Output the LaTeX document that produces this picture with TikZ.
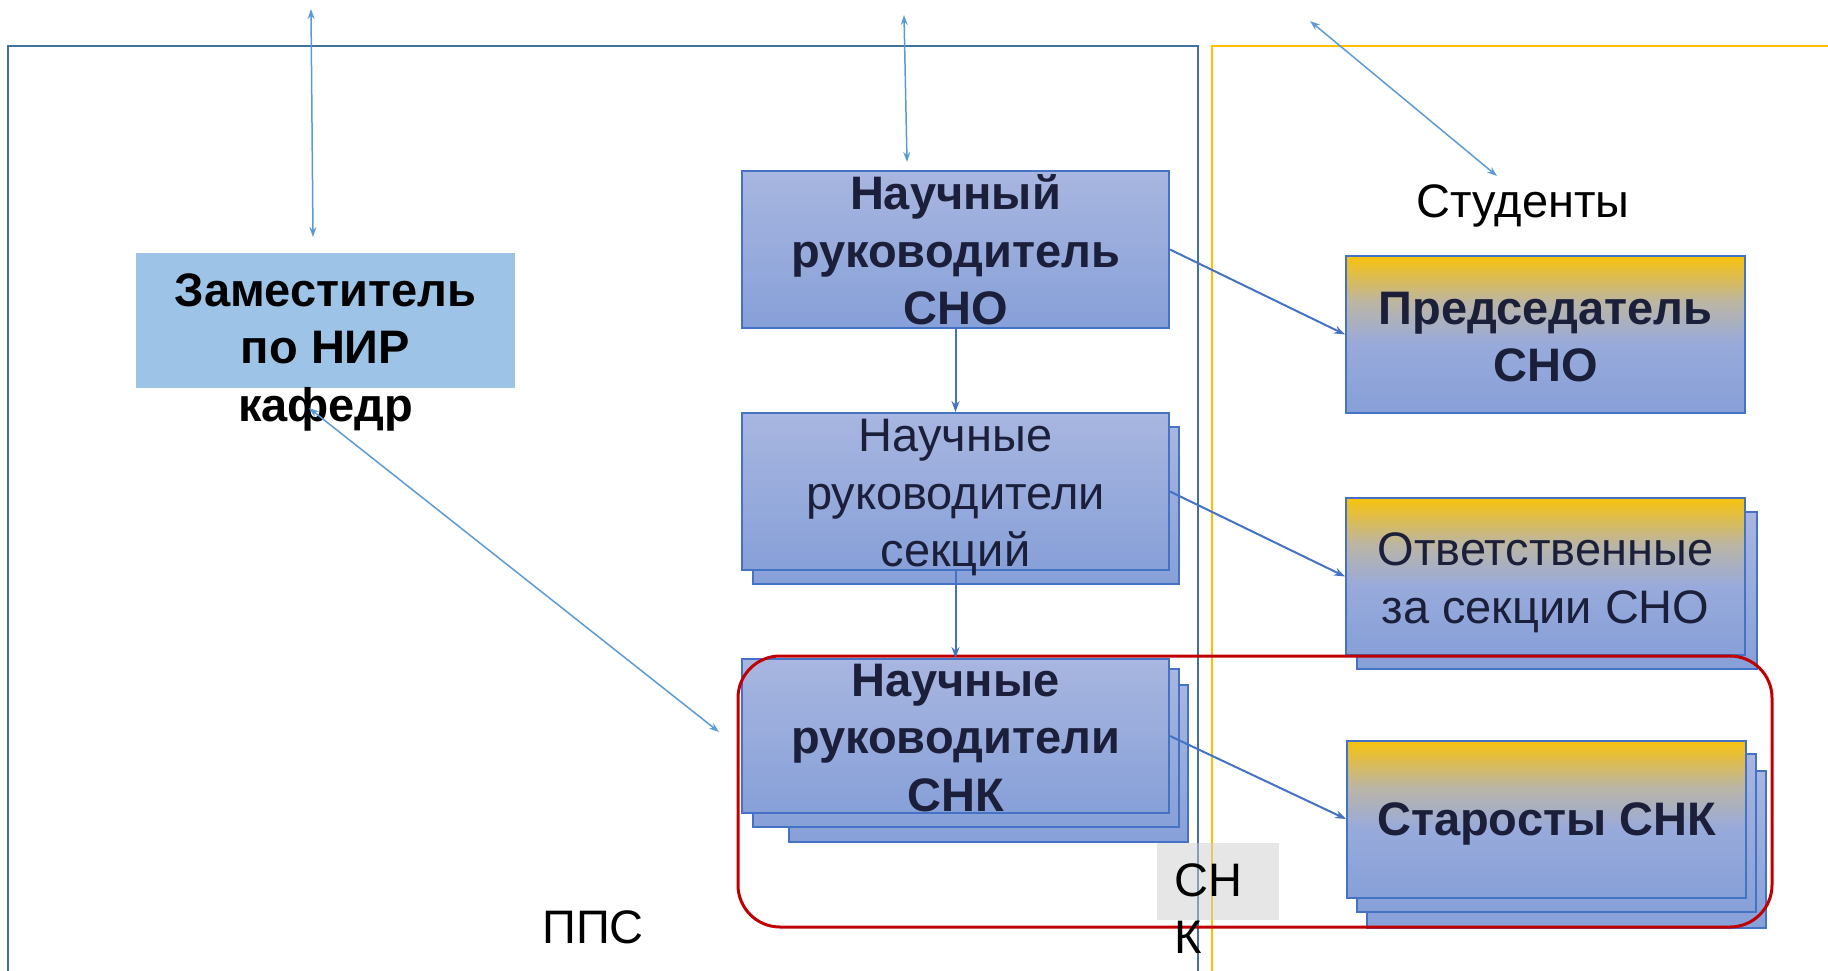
\documentclass[tikz,border=0pt]{standalone}
\usepackage{fontspec}
\setmainfont{Liberation Sans}
\usetikzlibrary{arrows.meta}

\definecolor{ppsblue}{HTML}{41719C}
\definecolor{studgold}{HTML}{FFC000}
\definecolor{snkred}{HTML}{C00000}
\definecolor{linkblue}{HTML}{5B9BD5}
\definecolor{boxline}{HTML}{4472C4}
\definecolor{boxtop}{HTML}{A8B6E0}
\definecolor{boxmid}{HTML}{98AADB}
\definecolor{boxbot}{HTML}{87A0D8}
\definecolor{tanmid}{HTML}{BAB5A6}
\definecolor{goldtop}{HTML}{F8C20C}
\definecolor{zamfill}{HTML}{9DC3E6}
\definecolor{txtnavy}{HTML}{1B1F3A}
\definecolor{snkgray}{HTML}{CFCECE}

\pgfdeclareverticalshading{studshade}{100bp}{color(0bp)=(boxbot); color(25bp)=(boxbot); color(47bp)=(boxmid); color(60bp)=(tanmid); color(75bp)=(goldtop); color(100bp)=(goldtop)}

\tikzset{
  pcbox/.style={draw=boxline,line width=2pt,top color=boxtop,bottom color=boxbot,
    minimum width=427pt,minimum height=157pt,inner sep=0pt},
  stbox/.style={draw=boxline,line width=2pt,shading=studshade,
    minimum width=399pt,minimum height=157pt,inner sep=0pt},
  layerbox/.style={draw=boxline,line width=2pt,top color=boxtop,bottom color=boxbot},
  boldtxt/.style={font=\bfseries\fontsize{47}{57.5}\selectfont,text=txtnavy,align=center,inner sep=0pt},
  plaintxt/.style={font=\fontsize{47}{57.5}\selectfont,text=txtnavy,inner sep=0pt},
  link/.style={draw=linkblue,line width=1.5pt,{Stealth[length=10pt,width=7pt]}-{Stealth[length=10pt,width=7pt]}},
  feed/.style={draw=boxline,line width=2pt,-{Stealth[length=11pt,width=8pt]}}
}

\begin{document}
\begin{tikzpicture}[x=1pt,y=-1pt]
\useasboundingbox (0,0) rectangle (1828,970);
\draw[ppsblue,line width=2.8pt] (8,975) |- (1198,46) -- (1198,975);
\draw[studgold,line width=2.5pt] (1212,975) |- (1835,46);
\node[plaintxt,text=black,anchor=base] (pps) at (593,943) {ППС};
\node[plaintxt,text=black,anchor=base] (stud) at (1523,217) {Студенты};

\node[fill=zamfill,minimum width=379pt,minimum height=135pt] (zam) at (325.5,320.5) {};
\node[boldtxt,text=black] (zamtxt) at (325.5,352) {Заместитель\\по НИР\\кафедр};

\path[layerbox] (753,427) rectangle (1179,584);
\path[layerbox] (789,685) rectangle (1188,842);
\path[layerbox] (753,669) rectangle (1179,827);
\path[layerbox] (1357,512) rectangle (1757,669);
\path[layerbox] (1367,771) rectangle (1766,928);
\path[layerbox] (1357,754) rectangle (1756,912);

\node[pcbox] (sno) at (955.5,249.5) {};
\node[pcbox] (sec) at (955.5,491.5) {};
\node[pcbox,minimum height=154pt] (snk) at (955.5,736) {};
\node[stbox] (pred) at (1545.5,334.5) {};
\node[stbox] (otv) at (1545.5,576.5) {};
\node[stbox] (star) at (1546.5,819) {};

\node[boldtxt] (snotxt) at (955.5,250) {Научный\\руководитель\\СНО};
\node[plaintxt,align=center] (sectxt) at (955.5,498) {Научные\\руководители\\секций};
\node[boldtxt] (snktxt) at (955.5,738) {Научные\\руководители\\СНК};
\node[boldtxt] (predtxt) at (1545.5,337) {Председатель\\СНО};
\node[plaintxt,align=center] (otvtxt) at (1545.5,583) {Ответственные\\за секции СНО};
\node[boldtxt,anchor=base] (startxt) at (1546.5,835) {Старосты СНК};

\draw[snkred,line width=3pt,rounded corners=42pt] (738,656) rectangle (1772,927);
\node[fill=snkgray,fill opacity=0.5,minimum width=122pt,minimum height=77pt,inner sep=0pt] (snkbg) at (1218,881.5) {};
\node[plaintxt,text=black,align=left,anchor=north west] (snklbl) at (1174,863) {СН\\К};

\coordinate (zamtop) at (311,9);
\coordinate (zamend) at (313,237);
\coordinate (snotop) at (904,15);
\coordinate (snoend) at (907,162);
\coordinate (studtop) at (1310,21);
\coordinate (studend) at (1497,176);
\coordinate (zamlow) at (309,408);
\coordinate (snkleft) at (719,732);
\draw[link] (zamtop) -- (zamend);
\draw[link] (snotop) -- (snoend);
\draw[link] (studtop) -- (studend);
\draw[link] (zamlow) -- (snkleft);

\draw[feed] (sno.south) -- (sec.north);
\draw[feed] (sec.south) -- (snk.north);
\draw[feed] (sno.east) -- (pred.west);
\draw[feed] (sec.east) -- (otv.west);
\draw[feed] (snk.east) -- (star.west);
\end{tikzpicture}
\end{document}
